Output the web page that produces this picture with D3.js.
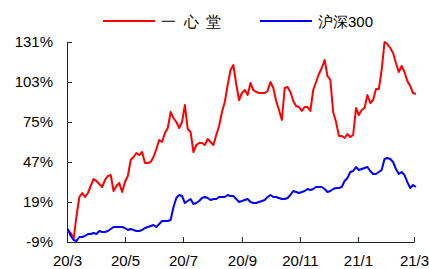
<!DOCTYPE html>
<html>
<head>
<meta charset="utf-8">
<script src="https://cdn.jsdelivr.net/npm/d3@7"></script>
<style>
  body { margin: 0; background: #fff; }
  svg { display: block; }
  text { font-family: "Liberation Sans", Arial, sans-serif; fill: #000; }
</style>
</head>
<body>
<svg id="chart" width="429" height="269"></svg>
<script>
// data, one point every 3 calendar days from 2020-03-02
const START = new Date(2020, 2, 2);
const STEP_DAYS = 3;

const yixintang = [
  -1.3, -2.7, -6.9, 9.2, 22.5, 25.3, 22.5, 25.3, 30.2, 35.1,
  33.7, 31.6, 29.5, 34.4, 37.2, 37.9, 26.7, 30.2, 32.3, 26.0,
  33.0, 37.2, 48.4, 50.5, 53.3, 51.9, 54.0, 46.3, 46.3, 47.0,
  50.5, 56.1, 62.4, 61.0, 67.3, 70.8, 82.0, 77.8, 75.0, 70.8,
  75.0, 86.9, 70.1, 68.0, 54.0, 58.9, 60.3, 60.3, 58.9, 63.1,
  61.0, 58.9, 65.9, 72.2, 82.0, 89.0, 100.9, 111.4, 114.9, 101.6,
  90.4, 95.3, 97.4, 93.9, 102.3, 97.4, 96.0, 95.3, 95.3, 95.3,
  96.7, 103.0, 98.8, 89.7, 83.4, 76.4, 98.8, 99.5, 96.0, 89.7,
  86.2, 85.5, 82.7, 85.5, 85.5, 82.7, 97.4, 103.0, 108.6, 112.8,
  118.4, 107.2, 104.4, 82.0, 75.0, 65.2, 65.2, 63.8, 66.6, 64.5,
  65.9, 84.8, 79.9, 83.4, 84.8, 93.9, 88.3, 90.4, 98.1, 98.1,
  111.4, 131.0, 129.6, 126.8, 123.3, 116.3, 110.0, 114.2, 110.0, 103.7,
  100.2, 95.3, 94.6
];

const hs300 = [
  0.1, -4.8, -7.6, -8.3, -5.5, -5.5, -4.8, -3.4, -3.4, -2.7,
  -3.4, -1.3, -2.0, -2.0, -1.3, 0.1, 1.5, 1.5, 1.5, 1.5,
  0.8, -0.6, 0.1, -0.6, -1.3, -1.3, -0.6, 0.8, 1.5, 2.2,
  2.9, 1.5, 3.6, 5.7, 5.7, 5.7, 6.4, 15.5, 21.8, 23.9,
  23.2, 18.3, 19.7, 21.1, 17.6, 18.3, 19.7, 21.8, 22.5, 21.8,
  20.4, 21.1, 21.1, 22.5, 22.5, 22.5, 23.9, 23.2, 23.2, 21.1,
  19.0, 19.7, 20.4, 21.1, 19.0, 18.3, 18.3, 19.0, 19.7, 20.4,
  22.5, 23.9, 22.5, 22.5, 21.8, 21.1, 21.1, 21.8, 23.9, 26.7,
  26.0, 25.3, 26.0, 26.7, 28.1, 27.4, 28.1, 29.5, 29.5, 29.5,
  28.1, 26.0, 26.7, 28.1, 28.8, 28.8, 29.5, 33.7, 35.8, 40.0,
  40.7, 43.5, 41.4, 42.1, 42.8, 43.5, 40.7, 38.6, 38.6, 40.0,
  41.4, 49.1, 49.8, 49.1, 47.0, 42.1, 38.6, 40.0, 37.9, 32.9,
  28.8, 30.9, 29.5
];

const seriesNames = ["一 心 堂", "沪深300"];
const seriesColors = ["#ff0000", "#0000ff"];

const yTicks = [-9, 19, 47, 75, 103, 131];
const xTickDates = ["2020-03-01", "2020-05-01", "2020-07-01", "2020-09-01", "2020-11-01", "2021-01-01", "2021-03-01"];
const xTickLabels = ["20/3", "20/5", "20/7", "20/9", "20/11", "21/1", "21/3"];

const svg = d3.select("#chart");
const LEFT = 67, RIGHT = 414, TOP = 42, BOTTOM = 242;

const parse = d3.timeParse("%Y-%m-%d");
const tickDates = xTickDates.map(parse);

const xScale = d3.scaleTime()
  .domain([tickDates[0], tickDates[tickDates.length - 1]])
  .range([LEFT, RIGHT]);

const yScale = d3.scaleLinear()
  .domain([-9, 131])
  .range([BOTTOM, TOP]);

const xAxis = d3.axisBottom(xScale)
  .tickValues(tickDates)
  .tickFormat((d, i) => xTickLabels[i])
  .tickSizeInner(-5)
  .tickSizeOuter(0)
  .tickPadding(13);

const yAxis = d3.axisLeft(yScale)
  .tickValues(yTicks)
  .tickFormat(d => d + "%")
  .tickSizeInner(-5)
  .tickSizeOuter(0)
  .tickPadding(14);

const gx = svg.append("g")
  .attr("transform", `translate(0, ${BOTTOM})`)
  .call(xAxis);

const gy = svg.append("g")
  .attr("transform", `translate(${LEFT}, 0)`)
  .call(yAxis);

[gx, gy].forEach(g => {
  g.selectAll("path, line").attr("stroke", "#222");
  g.selectAll("text")
   .attr("font-size", 15)
   .attr("font-family", "'Liberation Sans', Arial, sans-serif")
   .attr("fill", "#000");
});
gx.selectAll("text").attr("dy", "0.72em");

const line = d3.line()
  .x((d, i) => xScale(d3.timeDay.offset(START, i * STEP_DAYS)))
  .y(d => yScale(d));

[yixintang, hs300].forEach((s, k) => {
  svg.append("path")
     .datum(s)
     .attr("fill", "none")
     .attr("stroke", seriesColors[k])
     .attr("stroke-width", 2)
     .attr("stroke-linejoin", "round")
     .attr("d", line);
});

// legend
const legendX = [103, 260];
seriesNames.forEach((name, k) => {
  const g = svg.append("g").attr("transform", `translate(${legendX[k]}, 21)`);
  g.append("line")
   .attr("x1", 0).attr("x2", 52)
   .attr("stroke", seriesColors[k])
   .attr("stroke-width", 2);
  g.append("text")
   .attr("x", 58)
   .attr("y", 6)
   .attr("font-size", 15)
   .attr("font-family", "'Liberation Sans', 'Noto Sans CJK SC', sans-serif")
   .text(name.replace(/ /g, "\u2002"));
});
</script>
</body>
</html>
